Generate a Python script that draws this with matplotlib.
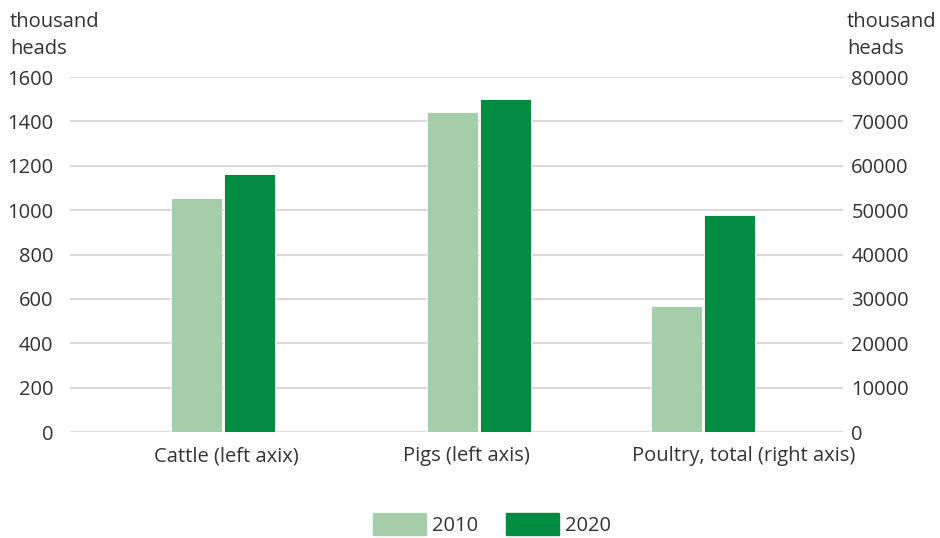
import matplotlib.pyplot as plt
from matplotlib.patches import Patch
from matplotlib.transforms import blended_transform_factory

plt.rcParams['font.family'] = ['Open Sans', 'DejaVu Sans']

# data (thousand heads)
categories = ['Cattle (left axix)', 'Pigs (left axis)', 'Poultry, total (right axis)']
years = ['2010', '2020']
left_2010 = [1053, 1444]
left_2020 = [1161, 1499]
poultry_2010 = 28300
poultry_2020 = 48800

light = '#a6cda9'
dark = '#038b41'
txt = '#333333'
fs = 14.5

# layout in pixel-like x units
group_x = [223, 479, 703]
label_x = [226, 466, 744]
bw = 51

fig = plt.figure(figsize=(9.4, 5.38), dpi=100)
ax = fig.add_axes([70/940, 1-432/538, (843-70)/940, (432-77)/538])
ax2 = ax.twinx()

ax.bar([g - bw/2 - 1 for g in group_x[:2]], left_2010, bw, color=light, edgecolor='white', linewidth=0.6, zorder=3)
ax.bar([g + bw/2 + 1 for g in group_x[:2]], left_2020, bw, color=dark, edgecolor='white', linewidth=0.6, zorder=3)
ax2.bar(group_x[2] - bw/2 - 1, poultry_2010, bw, color=light, edgecolor='white', linewidth=0.6, zorder=3)
ax2.bar(group_x[2] + bw/2 + 1, poultry_2020, bw, color=dark, edgecolor='white', linewidth=0.6, zorder=3)

ax.set_xlim(70, 843)
ax.set_ylim(0, 1600)
ax2.set_ylim(0, 80000)
ax.set_yticks(range(0, 1601, 200))
ax2.set_yticks(range(0, 80001, 10000))
ax.yaxis.grid(True, color='#dadada', linewidth=1.5, zorder=0)
ax.set_axisbelow(True)

ax.set_xticks([])
trans = blended_transform_factory(ax.transData, ax.transAxes)
for x, lab in zip(label_x, categories):
    ax.text(x, -0.04, lab, transform=trans, ha='center', va='top', fontsize=fs, color=txt)

for a in (ax, ax2):
    for s in a.spines.values():
        s.set_visible(False)
    a.tick_params(length=0, labelsize=fs, labelcolor=txt)
ax.tick_params(axis='y', pad=12)
ax2.tick_params(axis='y', pad=6)

fig.text(10/940, 1-12/538, 'thousand\nheads', ha='left', va='top', fontsize=fs, color=txt, linespacing=1.45)
fig.text(847/940, 1-12/538, 'thousand\nheads', ha='left', va='top', fontsize=fs, color=txt, linespacing=1.45)

handles = [Patch(color=light), Patch(color=dark)]
fig.legend(handles, years, loc='lower center', bbox_to_anchor=(492/940, -0.03), ncol=2, frameon=False,
           fontsize=fs, handlelength=2.6, handleheight=1.3, columnspacing=1.4, handletextpad=0.3,
           labelcolor=txt)

fig.savefig('out.png', dpi=100)
